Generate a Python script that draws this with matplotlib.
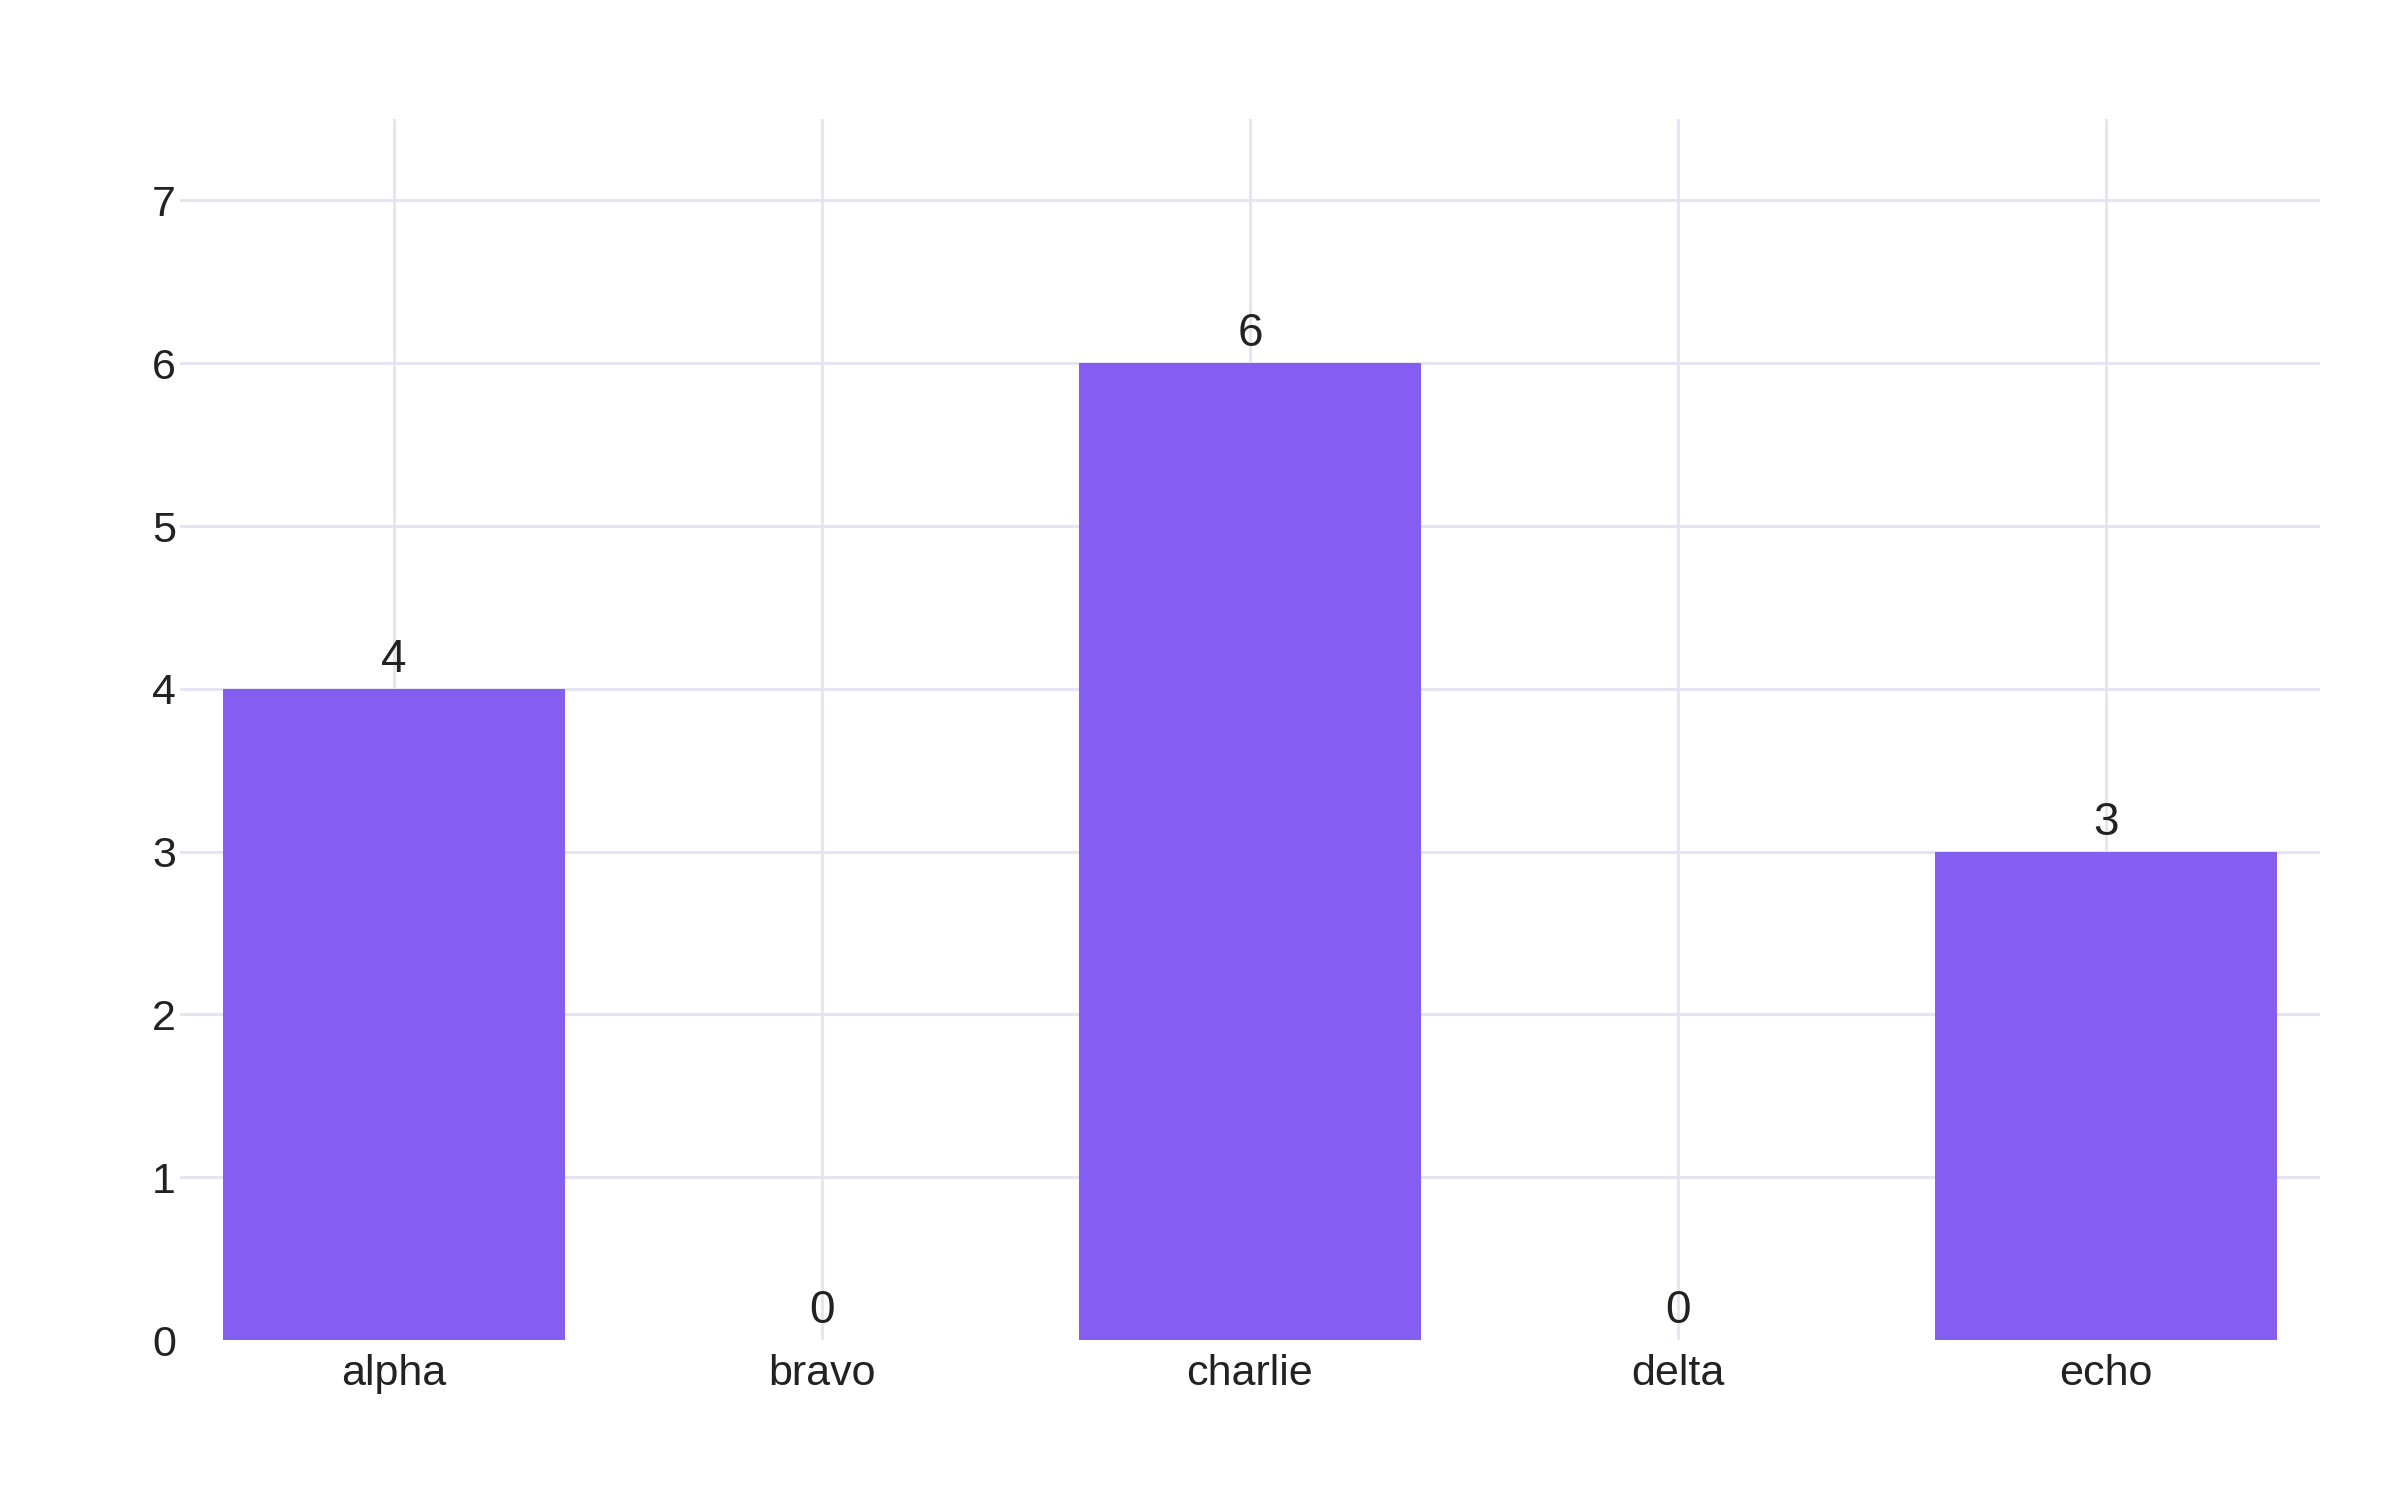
import matplotlib
matplotlib.use("Agg")
from matplotlib import pyplot as plt

categories = ['alpha', 'bravo', 'charlie', 'delta', 'echo']
values = [4, 0, 6, 0, 3]
yticks = [0, 1, 2, 3, 4, 5, 6, 7]

plt.rcParams['font.family'] = ['Liberation Sans', 'DejaVu Sans']

W, H = 2400, 1500
fig = plt.figure(figsize=(12, 7.5), dpi=200)
# plot area in pixels: left 180, right 2320, top 119, bottom 1340
ax = fig.add_axes([180 / W, 1 - 1340 / H, (2320 - 180) / W, (1340 - 119) / H])

x = range(len(categories))
bars = ax.bar(x, values, width=0.8, color='#845EF0', zorder=2)

for b, v in zip(bars, values):
    ax.annotate(str(v), (b.get_x() + b.get_width() / 2, v), xytext=(0, 2.5),
                textcoords='offset points', ha='center', va='bottom',
                fontsize=16.5, color='#222222', zorder=3)

ax.set_xlim(-0.5, 4.5)
ax.set_ylim(0, 7.5)
ax.set_xticks(list(x))
ax.set_xticklabels(categories)
ax.set_yticks(yticks)

ax.grid(True, color='#E4E2F3', linewidth=1.0, zorder=0)
ax.set_axisbelow(True)
# no line drawn at zero
ax.yaxis.get_gridlines()[0].set_visible(False)
for s in ax.spines.values():
    s.set_visible(False)
ax.tick_params(length=0, labelsize=15.5, colors='#222222')
ax.tick_params(axis='x', pad=5)
ax.tick_params(axis='y', pad=1.5)

fig.savefig('out.png', dpi=200, facecolor='white')
